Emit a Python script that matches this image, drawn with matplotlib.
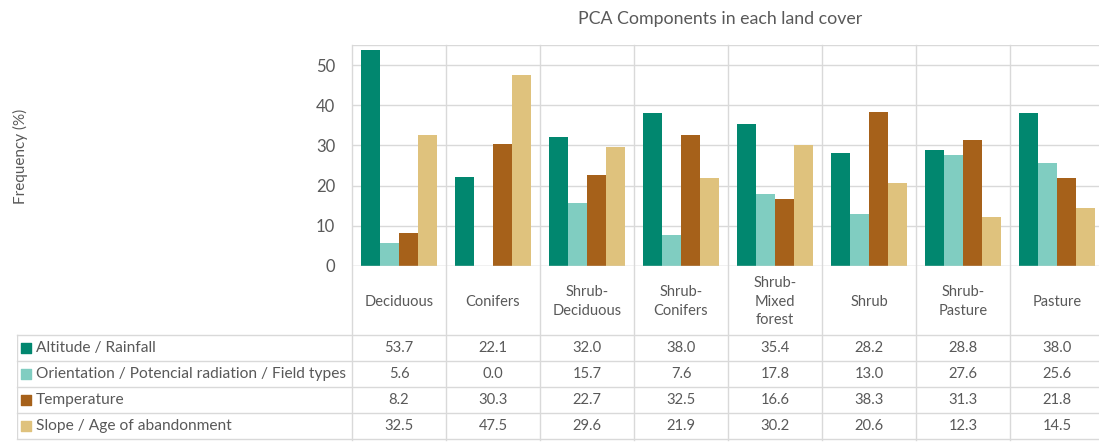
import numpy as np
import matplotlib.pyplot as plt

plt.rcParams['font.family'] = ['Lato', 'DejaVu Sans']

covers = ['Deciduous', 'Conifers', 'Shrub-\nDeciduous', 'Shrub-\nConifers',
          'Shrub-\nMixed\nforest', 'Shrub', 'Shrub-\nPasture', 'Pasture']
components = ['Altitude / Rainfall',
              'Orientation / Potencial radiation / Field types',
              'Temperature',
              'Slope / Age of abandonment']
altitude = [53.7, 22.1, 32.0, 38.0, 35.4, 28.2, 28.8, 38.0]
orientation = [5.6, 0.0, 15.7, 7.6, 17.8, 13.0, 27.6, 25.6]
temperature = [8.2, 30.3, 22.7, 32.5, 16.6, 38.3, 31.3, 21.8]
slope = [32.5, 47.5, 29.6, 21.9, 30.2, 20.6, 12.3, 14.5]
series = [altitude, orientation, temperature, slope]
colors = ['#01876f', '#80cdc1', '#a6611a', '#dfc27d']

W, H = 1099, 443
grid_c = '#d9d9d9'
txt_c = '#595959'

fig = plt.figure(figsize=(W / 100, H / 100), dpi=100)

#%% bar chart area (pixel positions of the reference)
x0, x1, ytop, ybot = 352, 1104, 45, 266
ax = fig.add_axes([x0 / W, 1 - ybot / H, (x1 - x0) / W, (ybot - ytop) / H])
n = len(covers)
x = np.arange(n)
bw = 0.2
for i, (vals, col) in enumerate(zip(series, colors)):
    ax.bar(x + 0.5 + (i - 1.5) * bw, vals, bw, color=col, zorder=3)
ax.set_xlim(0, n)
ax.set_ylim(0, 55)
ax.set_yticks(range(0, 51, 10))
ax.tick_params(axis='y', length=0, labelsize=12, labelcolor=txt_c, pad=12)
ax.set_xticks([])
ax.grid(axis='y', color=grid_c, lw=1, zorder=0)
for s in ax.spines.values():
    s.set_visible(False)
ax.axhline(0, color=grid_c, lw=1, zorder=4)
ax.axhline(55, color=grid_c, lw=1, zorder=4)
fig.text(720 / W, 1 - 19 / H, 'PCA Components in each land cover',
         ha='center', va='center', fontsize=12.8, color=txt_c)

#%% category labels + data table
tl, tb = 17, 440
tax = fig.add_axes([tl / W, 1 - tb / H, (x1 - tl) / W, (tb - ytop) / H])
cw = (x1 - x0) / n
lab_w = (x0 - tl) / cw
tax.set_xlim(-lab_w, n)
tax.set_ylim(tb, ytop)  # pixel rows, inverted
tax.axis('off')

rows_top = 335
rh = 26
# vertical lines of columns
for k in range(n + 1):
    tax.plot([k, k], [ytop, tb], color=grid_c, lw=1, clip_on=False)
tax.plot([-lab_w, -lab_w], [rows_top, tb], color=grid_c, lw=1)
for r in range(len(series) + 1):
    yy = rows_top + r * rh
    tax.plot([-lab_w, n], [yy, yy], color=grid_c, lw=1, clip_on=False)

for k, c in enumerate(covers):
    tax.text(k + 0.5, (ybot + rows_top) / 2 + 1, c, ha='center', va='center',
             fontsize=10.5, color=txt_c, linespacing=1.45)

for r, (name, vals, col) in enumerate(zip(components, series, colors)):
    yc = rows_top + r * rh + rh / 2
    tax.scatter([-lab_w + 0.1], [yc], marker='s', s=42, color=col)
    tax.text(-lab_w + 0.2, yc, name, ha='left', va='center', fontsize=11.2, color=txt_c)
    for k, v in enumerate(vals):
        tax.text(k + 0.5, yc, f'{v:.1f}', ha='center', va='center',
                 fontsize=10.6, color=txt_c)

fig.text(20 / W, 1 - 156 / H, 'Frequency (%)', rotation=90, ha='center', va='center',
         fontsize=11, color=txt_c)

fig.savefig('out.png', dpi=100)
